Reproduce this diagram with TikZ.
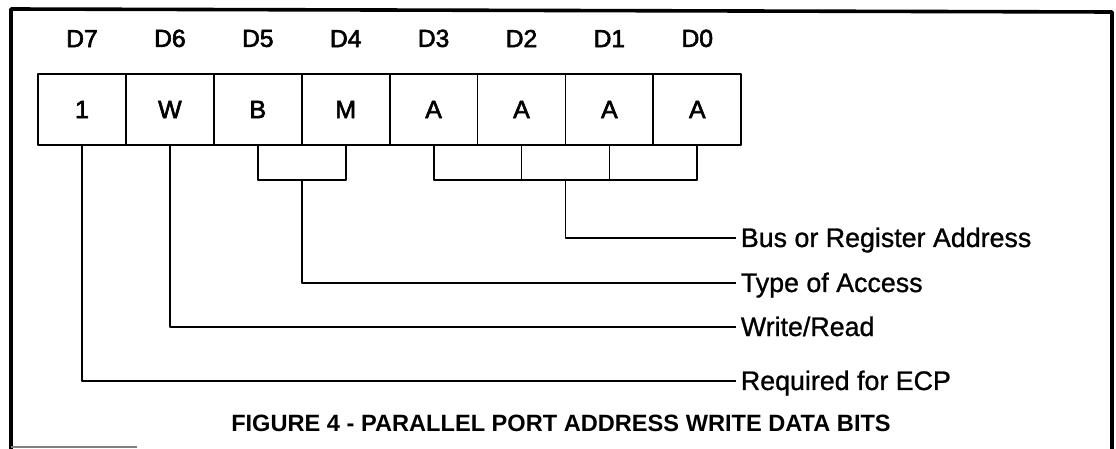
\documentclass[tikz,border=0pt]{standalone}
\usepackage{fontspec}
\setmainfont{Liberation Sans}
\newfontfamily\bitfont{Liberation Sans}[FakeBold=2.5]
\newfontfamily\labelfont{Liberation Sans}[FakeBold=1]
\usetikzlibrary{positioning}

\tikzset{
  bitcell/.style={draw,minimum width=43.95pt,minimum height=35.5pt,inner sep=0pt,outer sep=0pt,font=\bitfont\fontsize{12.5}{14}\selectfont},
  bitname/.style={inner sep=0pt,font=\bitfont\fontsize{12.3}{14}\selectfont},
  fieldlabel/.style={anchor=west,inner ysep=0pt,inner xsep=2pt,text height=9pt,text depth=0pt,font=\labelfont\fontsize{13.4}{15}\selectfont},
  figtitle/.style={inner sep=0pt,font=\fontsize{11.8}{14}\selectfont\bfseries},
}

\begin{document}
\begin{tikzpicture}[x={(0.5pt,0pt)},y={(0pt,-0.5pt)},line width=0.9pt,line join=round]
\useasboundingbox (0,0) rectangle (1116,449);
% frame
\draw[line width=1.8pt] (11,449) -- (11,9) -- (1112,12) -- (1112,449);
\draw[gray] (11,447) -- (137,447);
% bit cells
\node[bitcell] (c7) at (82,109.5) {1};
\node[bitcell,right=0pt of c7] (c6) {W};
\node[bitcell,right=0pt of c6] (c5) {B};
\node[bitcell,right=0pt of c5] (c4) {M};
\node[bitcell,right=0pt of c4] (c3) {A};
\node[bitcell,right=0pt of c3] (c2) {A};
\node[bitcell,right=0pt of c2] (c1) {A};
\node[bitcell,right=0pt of c1] (c0) {A};
% bit names
\node[bitname,above=13pt of c7] (d7) {D7};
\node[bitname,above=13pt of c6] (d6) {D6};
\node[bitname,above=13pt of c5] (d5) {D5};
\node[bitname,above=13pt of c4] (d4) {D4};
\node[bitname,above=13pt of c3] (d3) {D3};
\node[bitname,above=13pt of c2] (d2) {D2};
\node[bitname,above=13pt of c1] (d1) {D1};
\node[bitname,above=13pt of c0] (d0) {D0};
% field labels
\node[fieldlabel] (bus) at (736,238) {Bus or Register Address};
\node[fieldlabel] (access) at (736,283) {Type of Access};
\node[fieldlabel] (rw) at (736,327) {Write/Read};
\node[fieldlabel] (ecp) at (736,381) {Required for ECP};
% brackets
\draw (c5.south) -- ++(0,35) -| (c4.south);
\draw (c3.south) -- ++(0,35) -| (c0.south);
\draw (c2.south) -- ++(0,35);
\draw (c1.south) -- ++(0,35);
\coordinate (bmfoot) at ([yshift=-17.5pt]c5.south east);
\coordinate (afoot) at ([yshift=-17.5pt]c2.south east);
% leaders
\draw (afoot) |- (bus.west);
\draw (bmfoot) |- (access.west);
\draw (c6.south) |- (rw.west);
\draw (c7.south) |- (ecp.west);
% caption
\node[figtitle] (caption) at (561,423) {FIGURE 4 - PARALLEL PORT ADDRESS WRITE DATA BITS};
\end{tikzpicture}
\end{document}
